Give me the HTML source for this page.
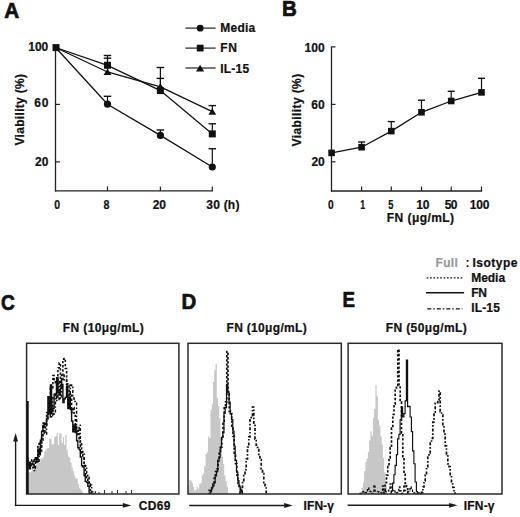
<!DOCTYPE html>
<html><head><meta charset="utf-8"><style>
html,body{margin:0;padding:0;background:#fff;width:520px;height:517px;overflow:hidden;}
svg{display:block;font-family:"Liberation Sans", sans-serif;}
</style></head><body>
<svg width="520" height="517" viewBox="0 0 520 517">
<rect width="520" height="517" fill="#fff"/>
<text x="4.23" y="18.40" font-size="21.8" font-weight="bold" fill="#111" stroke="#111" stroke-width="0.7" textLength="14.96" lengthAdjust="spacingAndGlyphs">A</text>
<line x1="55.5" y1="47" x2="55.5" y2="191.5" stroke="#222" stroke-width="1.3" />
<line x1="54.9" y1="190.9" x2="212.9" y2="190.9" stroke="#222" stroke-width="1.3" />
<line x1="55.5" y1="104.4" x2="60.0" y2="104.4" stroke="#222" stroke-width="1.2" />
<line x1="55.5" y1="161.9" x2="60.0" y2="161.9" stroke="#222" stroke-width="1.2" />
<line x1="107.5" y1="190.9" x2="107.5" y2="186.4" stroke="#222" stroke-width="1.2" />
<line x1="160.4" y1="190.9" x2="160.4" y2="186.4" stroke="#222" stroke-width="1.2" />
<line x1="212.3" y1="190.9" x2="212.3" y2="186.4" stroke="#222" stroke-width="1.2" />
<text x="28.36" y="50.54" font-size="12" font-weight="bold" fill="#111" stroke="#111" stroke-width="0.22" textLength="19.93" lengthAdjust="spacing">100</text>
<text x="34.34" y="107.34" font-size="12" font-weight="bold" fill="#111" stroke="#111" stroke-width="0.22" textLength="14.07" lengthAdjust="spacing">60</text>
<text x="35.09" y="165.84" font-size="12" font-weight="bold" fill="#111" stroke="#111" stroke-width="0.22" textLength="13.29" lengthAdjust="spacing">20</text>
<text x="54.19" y="208.94" font-size="12" font-weight="bold" fill="#111" stroke="#111" stroke-width="0.22" textLength="5.83" lengthAdjust="spacingAndGlyphs">0</text>
<text x="103.57" y="208.94" font-size="12" font-weight="bold" fill="#111" stroke="#111" stroke-width="0.22" textLength="5.96" lengthAdjust="spacingAndGlyphs">8</text>
<text x="152.70" y="208.94" font-size="12" font-weight="bold" fill="#111" stroke="#111" stroke-width="0.22" textLength="13.18" lengthAdjust="spacing">20</text>
<text x="206.32" y="208.94" font-size="12" font-weight="bold" fill="#111" stroke="#111" stroke-width="0.22" textLength="33.09" lengthAdjust="spacing">30 (h)</text>
<text x="0" y="0" transform="translate(24.40,145.59) rotate(-90)" font-size="12" font-weight="bold" fill="#111" stroke="#111" stroke-width="0.22" textLength="71.63" lengthAdjust="spacing">Viability (%)</text>
<line x1="107.5" y1="96.3" x2="107.5" y2="104.2" stroke="#111" stroke-width="1.2" />
<line x1="103.75" y1="96.3" x2="111.25" y2="96.3" stroke="#111" stroke-width="1.4" />
<line x1="160.4" y1="130.0" x2="160.4" y2="135.4" stroke="#111" stroke-width="1.2" />
<line x1="156.65" y1="130.0" x2="164.15" y2="130.0" stroke="#111" stroke-width="1.4" />
<line x1="212.3" y1="148.7" x2="212.3" y2="167.0" stroke="#111" stroke-width="1.2" />
<line x1="208.55" y1="148.7" x2="216.05" y2="148.7" stroke="#111" stroke-width="1.4" />
<line x1="107.5" y1="55.5" x2="107.5" y2="65.3" stroke="#111" stroke-width="1.2" />
<line x1="103.75" y1="55.5" x2="111.25" y2="55.5" stroke="#111" stroke-width="1.4" />
<line x1="160.4" y1="67.5" x2="160.4" y2="90.6" stroke="#111" stroke-width="1.2" />
<line x1="156.65" y1="67.5" x2="164.15" y2="67.5" stroke="#111" stroke-width="1.4" />
<line x1="212.3" y1="123.8" x2="212.3" y2="133.9" stroke="#111" stroke-width="1.2" />
<line x1="208.55" y1="123.8" x2="216.05" y2="123.8" stroke="#111" stroke-width="1.4" />
<line x1="107.5" y1="58.2" x2="107.5" y2="72.0" stroke="#111" stroke-width="1.2" />
<line x1="103.75" y1="58.2" x2="111.25" y2="58.2" stroke="#111" stroke-width="1.4" />
<line x1="160.4" y1="78.4" x2="160.4" y2="86.8" stroke="#111" stroke-width="1.2" />
<line x1="156.65" y1="78.4" x2="164.15" y2="78.4" stroke="#111" stroke-width="1.4" />
<line x1="212.3" y1="105.6" x2="212.3" y2="111.6" stroke="#111" stroke-width="1.2" />
<line x1="208.55" y1="105.6" x2="216.05" y2="105.6" stroke="#111" stroke-width="1.4" />
<polyline points="55.6,47.5 107.5,104.2 160.4,135.4 212.3,167.0" fill="none" stroke="#111" stroke-width="1.3"/>
<polyline points="55.6,47.5 107.5,65.3 160.4,90.6 212.3,133.9" fill="none" stroke="#111" stroke-width="1.3"/>
<polyline points="55.6,47.5 107.5,72.0 160.4,86.8 212.3,111.6" fill="none" stroke="#111" stroke-width="1.3"/>
<rect x="52.50" y="44.10" width="7" height="7" fill="#111"/>
<circle cx="107.5" cy="104.2" r="3.6" fill="#111"/>
<circle cx="160.4" cy="135.4" r="3.6" fill="#111"/>
<circle cx="212.3" cy="167.0" r="3.6" fill="#111"/>
<rect x="104.00" y="61.80" width="7" height="7" fill="#111"/>
<rect x="156.90" y="87.10" width="7" height="7" fill="#111"/>
<rect x="208.80" y="130.40" width="7" height="7" fill="#111"/>
<polygon points="107.5,68.8 111.5,75.0 103.5,75.0" fill="#111"/>
<polygon points="160.4,83.2 164.4,89.5 156.4,89.5" fill="#111"/>
<polygon points="212.3,108.2 216.20000000000002,114.7 208.4,114.7" fill="#111"/>
<line x1="185.4" y1="28.1" x2="215.6" y2="28.1" stroke="#222" stroke-width="1.2" />
<line x1="185.4" y1="48.1" x2="215.6" y2="48.1" stroke="#222" stroke-width="1.2" />
<line x1="185.4" y1="68.0" x2="215.6" y2="68.0" stroke="#222" stroke-width="1.2" />
<circle cx="200.2" cy="28.2" r="3.4" fill="#111"/>
<rect x="196.80" y="44.70" width="6.8" height="6.8" fill="#111"/>
<polygon points="200.1,64.8 204.2,71.5 196.0,71.5" fill="#111"/>
<text x="220.28" y="31.54" font-size="12" font-weight="bold" fill="#111" stroke="#111" stroke-width="0.22" textLength="34.92" lengthAdjust="spacing">Media</text>
<text x="220.28" y="51.74" font-size="12" font-weight="bold" fill="#111" stroke="#111" stroke-width="0.22" textLength="16.54" lengthAdjust="spacing">FN</text>
<text x="220.28" y="72.64" font-size="12" font-weight="bold" fill="#111" stroke="#111" stroke-width="0.22" textLength="28.85" lengthAdjust="spacing">IL-15</text>
<text x="282.08" y="15.90" font-size="21.8" font-weight="bold" fill="#111" stroke="#111" stroke-width="0.7" textLength="14.80" lengthAdjust="spacingAndGlyphs">B</text>
<line x1="331.5" y1="46.4" x2="331.5" y2="191.6" stroke="#222" stroke-width="1.3" />
<line x1="330.9" y1="191.0" x2="482.1" y2="191.0" stroke="#222" stroke-width="1.3" />
<line x1="331.5" y1="46.9" x2="335.5" y2="46.9" stroke="#222" stroke-width="1.2" />
<line x1="331.5" y1="104.4" x2="335.5" y2="104.4" stroke="#222" stroke-width="1.2" />
<line x1="331.5" y1="161.8" x2="335.5" y2="161.8" stroke="#222" stroke-width="1.2" />
<line x1="361.6" y1="191.0" x2="361.6" y2="186.5" stroke="#222" stroke-width="1.2" />
<line x1="391.3" y1="191.0" x2="391.3" y2="186.5" stroke="#222" stroke-width="1.2" />
<line x1="421.5" y1="191.0" x2="421.5" y2="186.5" stroke="#222" stroke-width="1.2" />
<line x1="451.2" y1="191.0" x2="451.2" y2="186.5" stroke="#222" stroke-width="1.2" />
<line x1="481.5" y1="191.0" x2="481.5" y2="186.5" stroke="#222" stroke-width="1.2" />
<text x="304.55" y="52.14" font-size="12" font-weight="bold" fill="#111" stroke="#111" stroke-width="0.22" textLength="20.14" lengthAdjust="spacing">100</text>
<text x="311.26" y="108.54" font-size="12" font-weight="bold" fill="#111" stroke="#111" stroke-width="0.22" textLength="13.43" lengthAdjust="spacing">60</text>
<text x="311.60" y="166.44" font-size="12" font-weight="bold" fill="#111" stroke="#111" stroke-width="0.22" textLength="13.08" lengthAdjust="spacing">20</text>
<text x="328.10" y="209.14" font-size="12" font-weight="bold" fill="#111" stroke="#111" stroke-width="0.22" textLength="5.71" lengthAdjust="spacingAndGlyphs">0</text>
<text x="360.26" y="209.14" font-size="12" font-weight="bold" fill="#111" stroke="#111" stroke-width="0.22" textLength="4.88" lengthAdjust="spacingAndGlyphs">1</text>
<text x="388.22" y="209.14" font-size="12" font-weight="bold" fill="#111" stroke="#111" stroke-width="0.22" textLength="5.13" lengthAdjust="spacingAndGlyphs">5</text>
<text x="416.16" y="209.14" font-size="12" font-weight="bold" fill="#111" stroke="#111" stroke-width="0.22" textLength="13.22" lengthAdjust="spacing">10</text>
<text x="444.86" y="209.14" font-size="12" font-weight="bold" fill="#111" stroke="#111" stroke-width="0.22" textLength="12.60" lengthAdjust="spacing">50</text>
<text x="469.87" y="209.14" font-size="12" font-weight="bold" fill="#111" stroke="#111" stroke-width="0.22" textLength="19.50" lengthAdjust="spacing">100</text>
<text x="386.86" y="222.24" font-size="12" font-weight="bold" fill="#111" stroke="#111" stroke-width="0.22" textLength="67.17" lengthAdjust="spacing">FN (&#956;g/mL)</text>
<text x="0" y="0" transform="translate(301.20,146.39) rotate(-90)" font-size="12" font-weight="bold" fill="#111" stroke="#111" stroke-width="0.22" textLength="72.54" lengthAdjust="spacing">Viability (%)</text>
<line x1="361.6" y1="142.0" x2="361.6" y2="147.2" stroke="#111" stroke-width="1.2" />
<line x1="358.1" y1="142.0" x2="365.1" y2="142.0" stroke="#111" stroke-width="1.4" />
<line x1="391.3" y1="121.6" x2="391.3" y2="131.1" stroke="#111" stroke-width="1.2" />
<line x1="387.8" y1="121.6" x2="394.8" y2="121.6" stroke="#111" stroke-width="1.4" />
<line x1="421.5" y1="100.2" x2="421.5" y2="112.3" stroke="#111" stroke-width="1.2" />
<line x1="418.0" y1="100.2" x2="425.0" y2="100.2" stroke="#111" stroke-width="1.4" />
<line x1="451.2" y1="91.3" x2="451.2" y2="101.0" stroke="#111" stroke-width="1.2" />
<line x1="447.7" y1="91.3" x2="454.7" y2="91.3" stroke="#111" stroke-width="1.4" />
<line x1="481.5" y1="78.3" x2="481.5" y2="92.4" stroke="#111" stroke-width="1.2" />
<line x1="478.0" y1="78.3" x2="485.0" y2="78.3" stroke="#111" stroke-width="1.4" />
<polyline points="331.6,152.9 361.6,147.2 391.3,131.1 421.5,112.3 451.2,101.0 481.5,92.4" fill="none" stroke="#111" stroke-width="1.3"/>
<rect x="328.30" y="149.60" width="6.6" height="6.6" fill="#111"/>
<rect x="358.30" y="143.90" width="6.6" height="6.6" fill="#111"/>
<rect x="388.00" y="127.80" width="6.6" height="6.6" fill="#111"/>
<rect x="418.20" y="109.00" width="6.6" height="6.6" fill="#111"/>
<rect x="447.90" y="97.70" width="6.6" height="6.6" fill="#111"/>
<rect x="478.20" y="89.10" width="6.6" height="6.6" fill="#111"/>
<text x="435.57" y="266.74" font-size="12" font-weight="bold" fill="#9a9a9a" stroke="#9a9a9a" stroke-width="0.22" textLength="22.20" lengthAdjust="spacing">Full</text>
<text x="465.6" y="266.6" font-size="12" font-weight="bold" fill="#111">:</text>
<text x="472.45" y="266.84" font-size="12" font-weight="bold" fill="#111" stroke="#111" stroke-width="0.22" textLength="44.98" lengthAdjust="spacing">Isotype</text>
<text x="471.21" y="281.84" font-size="12" font-weight="bold" fill="#111" stroke="#111" stroke-width="0.22" textLength="33.90" lengthAdjust="spacing">Media</text>
<text x="471.22" y="297.44" font-size="12" font-weight="bold" fill="#111" stroke="#111" stroke-width="0.22" textLength="15.76" lengthAdjust="spacing">FN</text>
<text x="471.19" y="312.44" font-size="12" font-weight="bold" fill="#111" stroke="#111" stroke-width="0.22" textLength="28.65" lengthAdjust="spacing">IL-15</text>
<line x1="426.6" y1="277.8" x2="463.3" y2="277.8" stroke="#111" stroke-width="1.3" stroke-dasharray="1.7 1.7"/>
<line x1="426.0" y1="292.8" x2="464.1" y2="292.8" stroke="#111" stroke-width="1.4" />
<line x1="427.3" y1="308.9" x2="462.4" y2="308.9" stroke="#111" stroke-width="1.3" stroke-dasharray="4 2 1.5 2"/>
<text x="1.07" y="310.30" font-size="22.8" font-weight="bold" fill="#111" stroke="#111" stroke-width="0.7" textLength="13.80" lengthAdjust="spacingAndGlyphs">C</text>
<text x="181.38" y="309.30" font-size="21.8" font-weight="bold" fill="#111" stroke="#111" stroke-width="0.7" textLength="14.73" lengthAdjust="spacingAndGlyphs">D</text>
<text x="342.50" y="307.30" font-size="21.8" font-weight="bold" fill="#111" stroke="#111" stroke-width="0.7" textLength="12.48" lengthAdjust="spacingAndGlyphs">E</text>
<defs>
<clipPath id="clipC"><rect x="26.6" y="343.3" width="152.3" height="150.7"/></clipPath>
<clipPath id="clipD"><rect x="188.0" y="343.3" width="153.3" height="150.7"/></clipPath>
<clipPath id="clipE"><rect x="348.1" y="343.3" width="153.89999999999998" height="150.7"/></clipPath>
</defs>
<g clip-path="url(#clipC)">
<path d="M26.6,494.0 V475.3 H27.9 V472.3 H29.1 V472.2 H30.4 V472.3 H31.6 V467.7 H32.9 V470.4 H34.1 V467.4 H35.4 V464.7 H36.6 V458.4 H37.9 V459.8 H39.1 V463.0 H40.4 V458.3 H41.6 V458.4 H42.9 V457.3 H44.1 V451.4 H45.4 V449.8 H46.6 V448.3 H47.9 V448.1 H49.1 V438.7 H50.4 V438.9 H51.6 V444.5 H52.9 V444.1 H54.1 V437.2 H55.4 V435.9 H56.6 V432.8 H57.9 V444.9 H59.1 V433.6 H60.4 V433.3 H61.6 V443.1 H62.9 V436.9 H64.1 V445.0 H65.3 V435.0 H66.6 V449.6 H67.8 V456.5 H69.1 V457.6 H70.3 V462.5 H71.6 V467.6 H72.8 V471.3 H74.1 V475.2 H75.3 V478.6 H76.6 V478.8 H77.8 V484.1 H79.1 V488.2 H80.3 V489.4 H81.6 V491.2 H82.8 V494.0 H83.0 V494.0" fill="#c7c7c7" stroke="none"/>
<path d="M26.6,494.0 V466.0 H27.9 V462.5 H29.1 V464.4 H30.4 V460.1 H31.6 V464.4 H32.9 V467.8 H34.1 V462.6 H35.4 V458.4 H36.6 V462.2 H37.9 V444.3 H39.1 V442.1 H40.4 V452.6 H41.6 V440.2 H42.9 V423.3 H44.1 V430.8 H45.4 V424.9 H46.6 V412.6 H47.9 V410.7 H49.1 V414.1 H50.4 V388.4 H51.6 V388.5 H52.9 V375.5 H54.1 V380.5 H55.4 V383.8 H56.6 V398.5 H57.9 V368.0 H59.1 V363.1 H60.4 V383.4 H61.6 V380.3 H62.9 V359.1 H64.1 V358.5 H65.3 V368.5 H66.6 V383.7 H67.8 V384.4 H69.1 V400.2 H70.3 V393.4 H71.6 V412.4 H72.8 V407.6 H74.1 V415.6 H75.3 V425.8 H76.6 V434.4 H77.8 V430.7 H79.1 V439.5 H80.3 V442.4 H81.6 V454.6 H82.8 V457.2 H84.1 V465.6 H85.3 V476.2 H86.6 V479.1 H87.8 V482.4 H89.1 V485.5 H90.3 V492.7 H91.6 V494.0 H92.0 V494.0" fill="none" stroke="#111" stroke-width="1.6" stroke-dasharray="2.4 1.8"/>
<path d="M26.6,494.0 V458.0 H27.9 V464.0 H29.1 V468.8 H30.4 V464.4 H31.6 V463.9 H32.9 V461.3 H34.1 V459.7 H35.4 V457.6 H36.6 V458.6 H37.9 V449.0 H39.1 V454.8 H40.4 V440.2 H41.6 V431.3 H42.9 V425.4 H44.1 V423.2 H45.4 V424.5 H46.6 V418.4 H47.9 V396.6 H49.1 V413.2 H50.4 V385.0 H51.6 V411.8 H52.9 V408.4 H54.1 V394.1 H55.4 V394.4 H56.6 V377.7 H57.9 V392.1 H59.1 V394.9 H60.4 V388.3 H61.6 V384.4 H62.9 V402.5 H64.1 V398.8 H65.3 V397.2 H66.6 V386.3 H67.8 V408.6 H69.1 V397.5 H70.3 V409.6 H71.6 V421.0 H72.8 V431.8 H74.1 V425.0 H75.3 V432.6 H76.6 V440.7 H77.8 V447.7 H79.1 V449.6 H80.3 V457.0 H81.6 V465.7 H82.8 V467.0 H84.1 V475.7 H85.3 V481.4 H86.6 V482.4 H87.8 V486.3 H89.1 V493.3 H90.0 V494.0" fill="none" stroke="#111" stroke-width="1.4" />
<path d="M26.6,494.0 V459.0 H27.9 V463.4 H29.1 V463.2 H30.4 V464.7 H31.6 V465.6 H32.9 V465.8 H34.1 V470.5 H35.4 V462.4 H36.6 V459.6 H37.9 V462.6 H39.1 V450.1 H40.4 V447.1 H41.6 V437.8 H42.9 V435.0 H44.1 V431.0 H45.4 V434.1 H46.6 V420.7 H47.9 V414.2 H49.1 V410.3 H50.4 V418.0 H51.6 V397.8 H52.9 V415.6 H54.1 V414.1 H55.4 V392.2 H56.6 V400.6 H57.9 V400.4 H59.1 V380.6 H60.4 V398.4 H61.6 V374.8 H62.9 V375.1 H64.1 V380.0 H65.3 V379.5 H66.6 V395.5 H67.8 V404.4 H69.1 V405.2 H70.3 V385.1 H71.6 V385.9 H72.8 V397.9 H74.1 V401.6 H75.3 V402.2 H76.6 V431.0 H77.8 V431.3 H79.1 V425.3 H80.3 V450.1 H81.6 V451.4 H82.8 V454.0 H84.1 V465.6 H85.3 V465.8 H86.6 V473.3 H87.8 V475.7 H89.1 V484.0 H90.3 V484.9 H91.6 V491.9 H92.8 V493.6 H94.0 V494.0" fill="none" stroke="#111" stroke-width="1.5" stroke-dasharray="3 1.8 1.6 1.8"/>
</g>
<rect x="26.6" y="343.3" width="152.3" height="150.7" fill="none" stroke="#2a2a2a" stroke-width="1.5"/>
<line x1="27.7" y1="401" x2="27.7" y2="494" stroke="#111" stroke-width="2.0" />
<line x1="95.5" y1="491.0" x2="95.5" y2="494.0" stroke="#333" stroke-width="1.1" />
<line x1="99" y1="492.0" x2="99" y2="494.0" stroke="#333" stroke-width="1.1" />
<line x1="104.5" y1="490.0" x2="104.5" y2="494.0" stroke="#333" stroke-width="1.1" />
<line x1="112" y1="491.0" x2="112" y2="494.0" stroke="#333" stroke-width="1.1" />
<line x1="117.5" y1="490.0" x2="117.5" y2="494.0" stroke="#333" stroke-width="1.1" />
<line x1="126" y1="491.0" x2="126" y2="494.0" stroke="#333" stroke-width="1.1" />
<line x1="131.5" y1="490.0" x2="131.5" y2="494.0" stroke="#333" stroke-width="1.1" />
<g clip-path="url(#clipD)">
<path d="M188.0,494.0 V488.4 H189.2 V480.0 H190.5 V480.8 H191.8 V483.3 H193.0 V487.0 H194.2 V490.7 H195.5 V489.4 H196.8 V487.0 H198.0 V488.8 H199.2 V483.7 H200.5 V482.8 H201.8 V475.6 H203.0 V473.7 H204.2 V465.9 H205.5 V454.3 H206.8 V452.3 H208.0 V436.6 H209.2 V437.9 H210.5 V410.1 H211.8 V404.3 H213.0 V382.1 H214.2 V370.1 H215.5 V364.0 H216.8 V398.1 H218.0 V406.0 H219.2 V418.6 H220.5 V437.2 H221.8 V456.9 H223.0 V464.1 H224.2 V475.6 H225.5 V481.1 H226.8 V486.8 H228.0 V492.9 H229.0 V494.0" fill="#c7c7c7" stroke="none"/>
<path d="M208.0,494.0 V494.0 H209.2 V490.4 H210.5 V489.1 H211.8 V487.5 H213.0 V484.2 H214.2 V478.1 H215.5 V471.6 H216.8 V469.0 H218.0 V460.3 H219.2 V452.2 H220.5 V447.1 H221.8 V439.0 H223.0 V422.0 H224.2 V407.9 H225.5 V401.8 H226.8 V351.5 H228.0 V393.8 H229.2 V411.3 H230.5 V413.5 H231.8 V428.2 H233.0 V436.2 H234.2 V453.1 H235.5 V463.7 H236.8 V475.2 H238.0 V483.4 H239.2 V486.7 H240.5 V490.9 H241.8 V492.9 H241.8 V494.0" fill="none" stroke="#111" stroke-width="1.7" stroke-dasharray="2.4 1.8"/>
<path d="M209.0,494.0 V494.0 H210.2 V491.8 H211.5 V487.9 H212.8 V485.9 H214.0 V482.9 H215.2 V475.9 H216.5 V471.2 H217.8 V461.3 H219.0 V457.1 H220.2 V447.9 H221.5 V437.4 H222.8 V432.7 H224.0 V413.3 H225.2 V407.7 H226.5 V384.3 H227.8 V391.8 H229.0 V402.1 H230.2 V414.0 H231.5 V419.5 H232.8 V431.1 H234.0 V446.2 H235.2 V460.7 H236.5 V472.1 H237.8 V480.6 H239.0 V486.2 H240.2 V491.0 H241.5 V491.8 H242.5 V494.0" fill="none" stroke="#111" stroke-width="1.2" />
<path d="M240.0,494.0 V492.0 H241.2 V489.9 H242.5 V482.7 H243.8 V475.6 H245.0 V469.7 H246.2 V459.0 H247.5 V447.2 H248.8 V436.9 H250.0 V418.6 H251.2 V415.6 H252.5 V407.0 H253.8 V425.4 H255.0 V439.1 H256.2 V445.1 H257.5 V447.3 H258.8 V454.3 H260.0 V459.7 H261.2 V468.8 H262.5 V473.6 H263.8 V482.6 H265.0 V486.6 H266.2 V493.9 H267.0 V494.0" fill="none" stroke="#111" stroke-width="1.7" stroke-dasharray="3 1.8 1.6 1.8"/>
</g>
<rect x="188.0" y="343.3" width="153.3" height="150.7" fill="none" stroke="#2a2a2a" stroke-width="1.5"/>
<g clip-path="url(#clipE)">
<path d="M360.4,494.0 V492.2 H361.6 V487.7 H362.9 V482.5 H364.1 V470.9 H365.4 V462.0 H366.6 V458.4 H367.9 V451.9 H369.1 V440.6 H370.4 V431.3 H371.6 V436.3 H372.9 V417.7 H374.1 V409.1 H375.4 V385.0 H376.6 V396.2 H377.9 V420.2 H379.1 V426.1 H380.4 V436.4 H381.6 V444.5 H382.9 V457.7 H384.1 V472.5 H385.4 V484.8 H386.6 V494.0 H386.8 V494.0" fill="#c7c7c7" stroke="none"/>
<path d="M384.0,494.0 V490.1 H385.2 V482.7 H386.5 V475.1 H387.8 V466.6 H389.0 V457.9 H390.2 V447.6 H391.5 V428.2 H392.8 V414.5 H394.0 V404.2 H395.2 V387.9 H396.5 V385.4 H397.8 V349.5 H399.0 V386.2 H400.2 V401.8 H401.5 V433.2 H402.8 V457.7 H404.0 V473.5 H405.2 V483.4 H406.5 V488.8 H407.8 V494.0 H408.0 V494.0" fill="none" stroke="#111" stroke-width="1.7" stroke-dasharray="2.4 1.8"/>
<path d="M391.4,494.0 V491.1 H392.6 V483.1 H393.9 V474.7 H395.1 V465.4 H396.4 V454.6 H397.6 V438.8 H398.9 V434.4 H400.1 V419.7 H401.4 V407.0 H402.6 V417.0 H403.9 V413.6 H405.1 V400.8 H406.4 V360.0 H407.6 V406.7 H408.9 V406.2 H410.1 V417.0 H411.4 V431.6 H412.6 V450.9 H413.9 V463.7 H415.1 V482.0 H416.4 V491.5 H417.5 V494.0" fill="none" stroke="#111" stroke-width="1.15" />
<path d="M421.5,494.0 V492.4 H422.8 V487.0 H424.0 V481.0 H425.2 V475.1 H426.5 V467.5 H427.8 V457.0 H429.0 V452.8 H430.2 V442.3 H431.5 V438.4 H432.8 V422.2 H434.0 V412.1 H435.2 V403.0 H436.5 V402.7 H437.8 V400.0 H439.0 V391.0 H440.2 V411.6 H441.5 V414.5 H442.8 V425.9 H444.0 V434.2 H445.2 V445.9 H446.5 V454.5 H447.8 V463.8 H449.0 V466.6 H450.2 V475.7 H451.5 V484.0 H452.8 V487.5 H454.0 V492.1 H455.0 V494.0" fill="none" stroke="#111" stroke-width="1.7" stroke-dasharray="3 1.8 1.6 1.8"/>
<path d="M360.0,494.0 V493.4 H361.2 V492.2 H362.5 V491.9 H363.8 V491.4 H365.0 V492.6 H366.2 V490.8 H367.5 V488.0 H368.8 V490.9 H370.0 V491.6 H371.2 V493.5 H372.5 V493.4 H373.8 V485.0 H375.0 V491.1 H376.2 V491.4 H377.5 V491.6 H378.8 V492.3 H380.0 V492.7 H381.2 V492.8 H382.5 V486.0 H383.8 V493.4 H385.0 V491.3 H386.2 V491.8 H387.5 V490.9 H388.8 V489.2 H390.0 V484.0 H391.2 V492.1 H392.5 V490.3 H393.8 V492.1 H395.0 V491.1 H396.2 V492.6 H397.5 V491.2 H398.8 V487.0 H400.0 V491.0 H401.2 V493.3 H402.5 V491.4 H403.8 V485.0 H405.0 V490.6 H406.2 V491.6 H407.5 V491.6 H408.8 V490.9 H410.0 V487.0 H411.2 V490.2 H412.5 V493.1 H413.8 V493.0 H415.0 V492.9 H416.2 V493.4 H417.5 V491.8 H418.8 V493.1 H420.0 V492.5 H421.0 V494.0" fill="none" stroke="#111" stroke-width="1.3" stroke-dasharray="2.4 1.8"/>
</g>
<rect x="348.1" y="343.3" width="153.89999999999998" height="150.7" fill="none" stroke="#2a2a2a" stroke-width="1.5"/>
<text x="62.76" y="331.94" font-size="12" font-weight="bold" fill="#111" stroke="#111" stroke-width="0.22" textLength="81.06" lengthAdjust="spacing">FN (10&#956;g/mL)</text>
<text x="226.47" y="332.04" font-size="12" font-weight="bold" fill="#111" stroke="#111" stroke-width="0.22" textLength="80.25" lengthAdjust="spacing">FN (10&#956;g/mL)</text>
<text x="385.66" y="331.74" font-size="12" font-weight="bold" fill="#111" stroke="#111" stroke-width="0.22" textLength="81.06" lengthAdjust="spacing">FN (50&#956;g/mL)</text>
<line x1="15.6" y1="506.09999999999997" x2="15.6" y2="440" stroke="#1a1a1a" stroke-width="1.4" />
<polygon points="15.6,433 13.2,441.5 18.0,441.5" fill="#1a1a1a"/>
<line x1="14.9" y1="505.4" x2="124.30000000000001" y2="505.4" stroke="#1a1a1a" stroke-width="1.4" />
<polygon points="131.3,505.4 122.80000000000001,503.0 122.80000000000001,507.79999999999995" fill="#1a1a1a"/>
<text x="138.70" y="510.14" font-size="12" font-weight="bold" fill="#111" stroke="#111" stroke-width="0.22" textLength="31.85" lengthAdjust="spacing">CD69</text>
<line x1="189.2" y1="505.5" x2="285.7" y2="505.5" stroke="#1a1a1a" stroke-width="1.4" />
<polygon points="292.7,505.5 284.2,503.1 284.2,507.9" fill="#1a1a1a"/>
<text x="303.60" y="509.74" font-size="12" font-weight="bold" fill="#111" stroke="#111" stroke-width="0.22" textLength="30.24" lengthAdjust="spacing">IFN-&#947;</text>
<line x1="347.6" y1="505.3" x2="450.6" y2="505.3" stroke="#1a1a1a" stroke-width="1.4" />
<polygon points="457.6,505.3 449.1,502.90000000000003 449.1,507.7" fill="#1a1a1a"/>
<text x="463.79" y="509.74" font-size="12" font-weight="bold" fill="#111" stroke="#111" stroke-width="0.22" textLength="30.75" lengthAdjust="spacing">IFN-&#947;</text>
</svg>
</body></html>
